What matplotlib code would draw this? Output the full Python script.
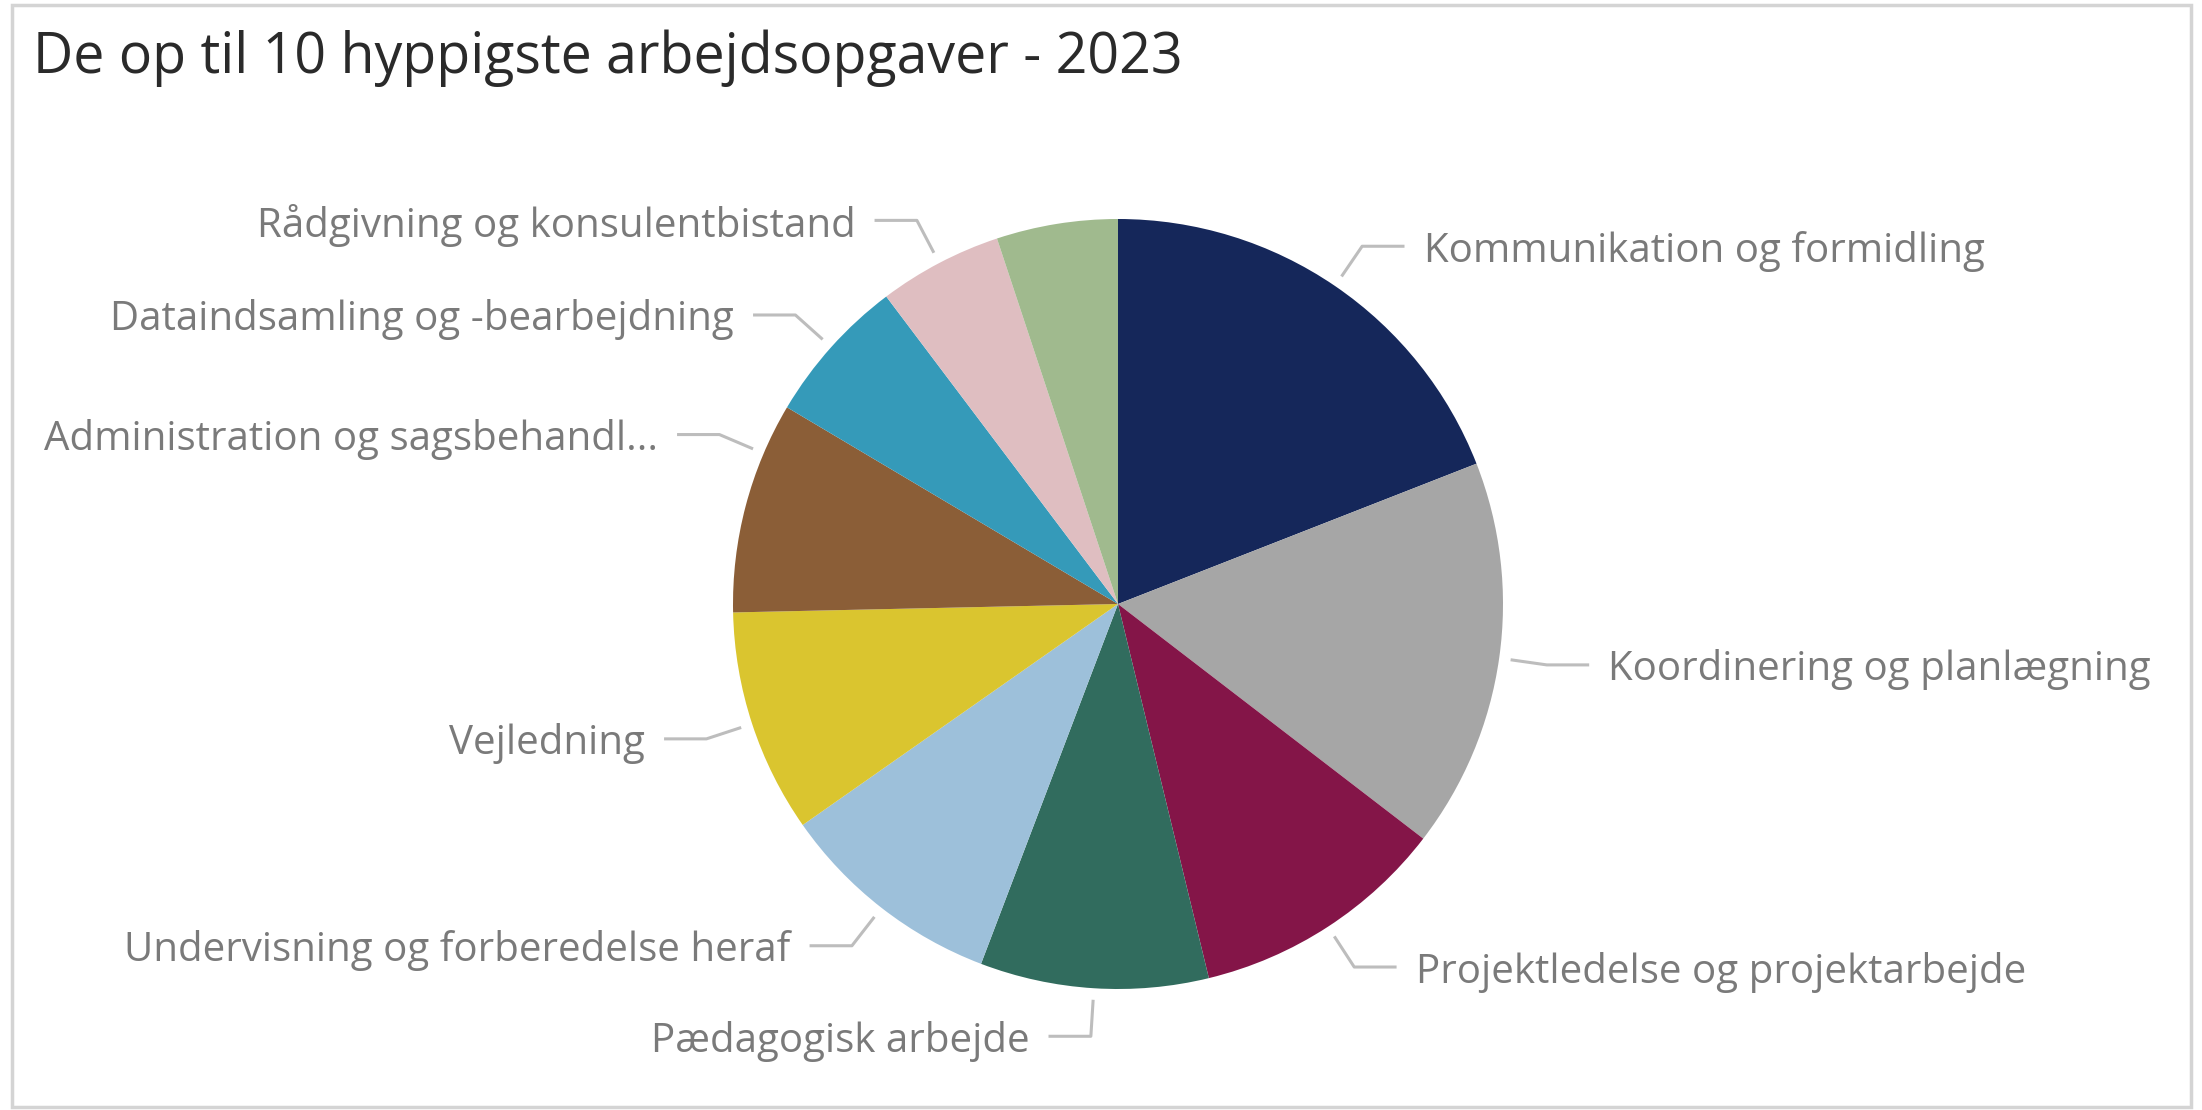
import numpy as np
import matplotlib.pyplot as plt
from matplotlib.patches import Rectangle

# slices, clockwise from 12 o'clock (shares in %)
categories = ["Kommunikation og formidling", "Koordinering og planlægning",
              "Projektledelse og projektarbejde", "Pædagogisk arbejde",
              "Undervisning og forberedelse heraf", "Vejledning",
              "Administration og sagsbehandl...", "Dataindsamling og -bearbejdning",
              "Rådgivning og konsulentbistand", ""]
shares = [19.1, 16.4, 10.8, 9.6, 9.5, 9.4, 8.9, 6.2, 5.2, 5.1]
colors = ["#15275A", "#A6A6A6", "#841548", "#316C5E", "#9DC0DA",
          "#DAC52F", "#8B5E37", "#359AB9", "#DFBEC1", "#A0BA8E"]

# label nudges (degrees, clockwise) where the label is moved off the slice middle
label_shift = [0, 0, 0, 0, 0, 0, 8.3, 0, 0, 0]

W, H = 2202, 1110
cx, cy, R = 1118, 604, 385

plt.rcParams['font.family'] = ['Open Sans', 'DejaVu Sans']

fig = plt.figure(figsize=(W / 100, H / 100), dpi=100)
ax = fig.add_axes([0, 0, 1, 1])
ax.axis('off')

wedges, _ = ax.pie(shares, colors=colors, startangle=90, counterclock=False,
                   radius=1.0, wedgeprops=dict(linewidth=0))
ax.set_xlim(-cx / R, (W - cx) / R)
ax.set_ylim(-(H - cy) / R, cy / R)
ax.set_aspect('auto')

for w, name, sh in zip(wedges, categories, label_shift):
    if not name:
        continue
    a = np.deg2rad((w.theta1 + w.theta2) / 2 - sh)
    x0, y0 = 1.03 * np.cos(a), 1.03 * np.sin(a)
    x1, y1 = 1.125 * np.cos(a), 1.125 * np.sin(a)
    side = 1 if x1 >= 0 else -1
    x2 = x1 + side * 0.11
    ax.plot([x0, x1, x2], [y0, y1, y1], color="#BDBDBD", lw=2.2,
            solid_capstyle='butt', clip_on=False)
    ax.text(x2 + side * 0.05, y1, name, ha='left' if side > 0 else 'right',
            va='center_baseline', fontsize=29, color="#7A7A7A")

fig.text(33 / W, 1 - 51 / H, "De op til 10 hyppigste arbejdsopgaver - 2023",
         ha='left', va='center_baseline', fontsize=40, color="#2A2A2A")

fig.patches.append(Rectangle((12 / W, 3 / H), (2191 - 12) / W, (1105 - 3) / H,
                             transform=fig.transFigure, fill=False,
                             edgecolor="#D4D4D4", linewidth=2.5))

fig.savefig("out.png", dpi=100, facecolor="white")
